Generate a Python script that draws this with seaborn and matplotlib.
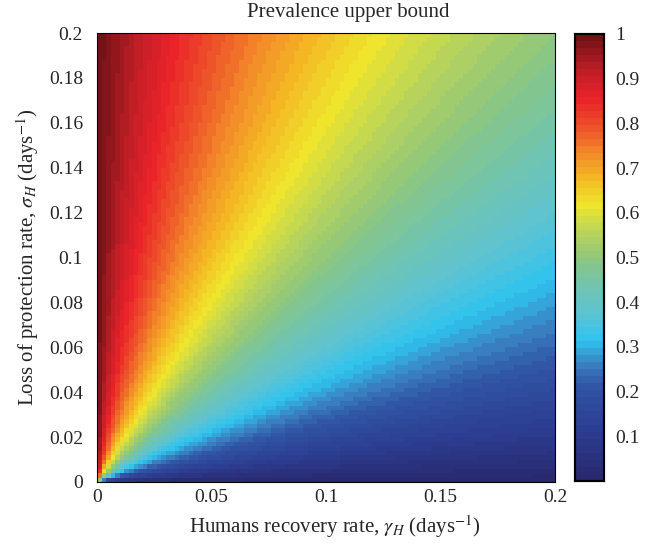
import numpy as np
import pandas as pd
import matplotlib
matplotlib.use("Agg")
import matplotlib.pyplot as plt
from matplotlib.colors import LinearSegmentedColormap, ListedColormap
import seaborn as sns

# ============================================================================
# DATA
# ============================================================================

# grid of the two rates (days^-1), cell centres, 0 .. 0.2
n_cells = 100
gamma_H = (np.arange(n_cells) + 0.5) * 0.2 / n_cells   # humans recovery rate
sigma_H = (np.arange(n_cells) + 0.5) * 0.2 / n_cells   # loss of protection rate

# prevalence upper bound of the model: sigma / (sigma + gamma)
G, S = np.meshgrid(gamma_H, sigma_H)
prevalence = S / (S + G)

x_ticks = [0, 0.05, 0.1, 0.15, 0.2]
x_ticklabels = ["0", "0.05", "0.1", "0.15", "0.2"]
y_ticks = [0, 0.02, 0.04, 0.06, 0.08, 0.1, 0.12, 0.14, 0.16, 0.18, 0.2]
y_ticklabels = ["0", "0.02", "0.04", "0.06", "0.08", "0.1", "0.12", "0.14", "0.16", "0.18", "0.2"]
cbar_ticks = [0.1, 0.2, 0.3, 0.4, 0.5, 0.6, 0.7, 0.8, 0.9, 1.0]
cbar_ticklabels = ["0.1", "0.2", "0.3", "0.4", "0.5", "0.6", "0.7", "0.8", "0.9", "1"]

# ============================================================================
# COLORMAP - print version of jet, 64 steps
# ============================================================================

jet_anchors = [
    (0.00, "#29296f"),
    (0.10, "#2c3c8f"),
    (0.20, "#3053a3"),
    (0.26, "#3a82c2"),
    (0.31, "#2ec3ee"),
    (0.37, "#5dc3d4"),
    (0.43, "#71c4b0"),
    (0.50, "#8ec67d"),
    (0.56, "#b9d45a"),
    (0.62, "#eee52c"),
    (0.68, "#f5b824"),
    (0.74, "#f2862a"),
    (0.80, "#ee5129"),
    (0.86, "#ea2329"),
    (0.92, "#c41e26"),
    (1.00, "#721316"),
]
base = LinearSegmentedColormap.from_list("print_jet", jet_anchors)
cmap = ListedColormap(base(np.linspace(0, 1, 64)))

# ============================================================================
# PLOT
# ============================================================================

sns.set_style("white")
plt.rcParams["font.family"] = ["Liberation Serif", "DejaVu Serif"]
plt.rcParams["mathtext.fontset"] = "stix"

df = pd.DataFrame(prevalence[::-1], index=sigma_H[::-1], columns=gamma_H)

fig = plt.figure(figsize=(6.58, 5.5), dpi=100)
ax = fig.add_axes([97 / 658, 68 / 550, 458 / 658, 449 / 550])
cax = fig.add_axes([575 / 658, 69 / 550, 29 / 658, 447 / 550])

sns.heatmap(df, ax=ax, cbar_ax=cax, cmap=cmap, vmin=0, vmax=1,
            xticklabels=False, yticklabels=False, rasterized=True)

n = len(gamma_H)
ax.set_xticks([v / 0.2 * n for v in x_ticks])
ax.set_xticklabels(x_ticklabels, rotation=0)
ax.set_yticks([(0.2 - v) / 0.2 * n for v in y_ticks])
ax.set_yticklabels(y_ticklabels, rotation=0)
ax.tick_params(axis="x", labelsize=14, length=0, pad=5)
ax.tick_params(axis="y", labelsize=14, length=0, pad=10)
for sp in ax.spines.values():
    sp.set_visible(True)
    sp.set_linewidth(0.8)
    sp.set_color("black")

ax.set_xlabel(r"Humans recovery rate, $\gamma_H$ (days$^{-1}$)", fontsize=15, labelpad=6)
ax.xaxis.set_label_coords(0.52, -0.07)
ax.set_ylabel(r"Loss of protection rate, $\sigma_H$ (days$^{-1}$)", fontsize=15, labelpad=6)
# title is centred over plot + colorbar
fig.text(348 / 658, 1 - 13 / 550, "Prevalence upper bound", fontsize=15,
         ha="center", va="center")

cax.set_yticks(cbar_ticks)
cax.set_yticklabels(cbar_ticklabels)
cax.tick_params(axis="y", labelsize=14, direction="in", length=4, width=1,
                left=True, right=True, pad=8)
for sp in cax.spines.values():
    sp.set_visible(True)
    sp.set_linewidth(1.5)
    sp.set_color("black")

fig.savefig("out.png", dpi=100)
